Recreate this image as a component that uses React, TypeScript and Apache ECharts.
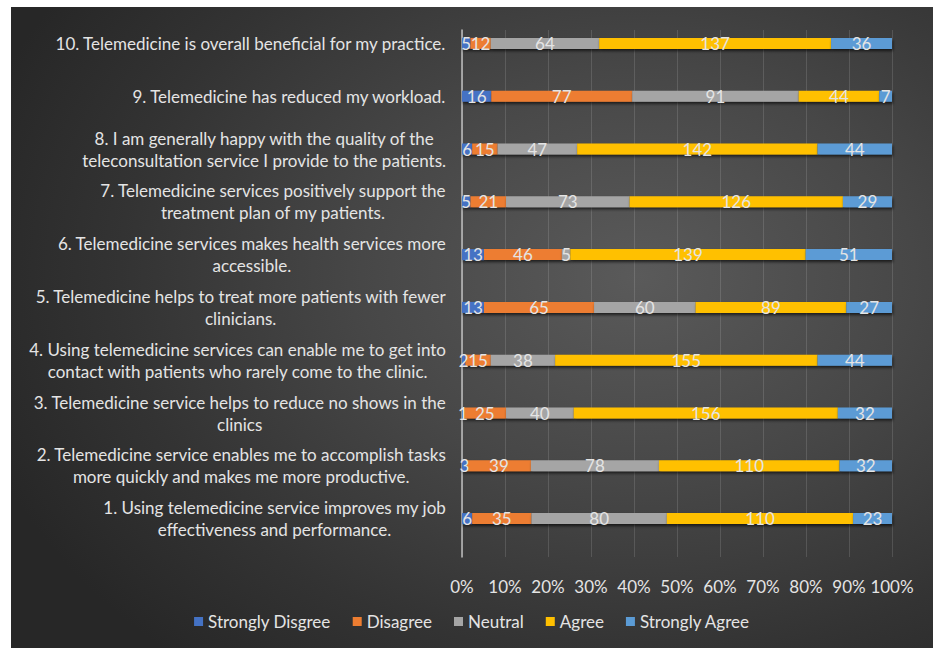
import React, { useEffect, useRef } from "react";
import * as echarts from "echarts";

const categories = [
  "1. Using telemedicine service improves my job\neffectiveness and performance.",
  "2. Telemedicine service enables me to accomplish tasks\nmore quickly and makes me more productive.",
  "3. Telemedicine service helps to reduce no shows in the\nclinics",
  "4. Using telemedicine services can enable me to get into\ncontact with patients who rarely come to the clinic.",
  "5. Telemedicine helps to treat more patients with fewer\nclinicians.",
  "6. Telemedicine services makes health services more\naccessible.",
  "7. Telemedicine services positively support the\ntreatment plan of my patients.",
  "8. I am generally happy with the quality of the\nteleconsultation service I provide to the patients.",
  "9. Telemedicine has reduced my workload.",
  "10. Telemedicine is overall beneficial for my practice.",
];

const stronglyDisagree = [6, 3, 1, 2, 13, 13, 5, 6, 16, 5];
const disagree = [35, 39, 25, 15, 65, 46, 21, 15, 77, 12];
const neutral = [80, 78, 40, 38, 60, 5, 73, 47, 91, 64];
const agree = [110, 110, 156, 155, 89, 139, 126, 142, 44, 137];
const stronglyAgree = [23, 32, 32, 44, 27, 51, 29, 44, 7, 36];

const seriesNames = ["Strongly Disgree", "Disagree", "Neutral", "Agree", "Strongly Agree"];
const seriesValues = [stronglyDisagree, disagree, neutral, agree, stronglyAgree];
const seriesColors = ["#4472C4", "#ED7D31", "#A5A5A5", "#FFC000", "#5B9BD5"];

const FONT = "Lato, 'Open Sans', sans-serif";
const TEXT = "#e4e4e4";

export default function App() {
  const ref = useRef<HTMLDivElement>(null);
  useEffect(() => {
    document.body.style.margin = "0";
    if (!ref.current) return;
    const chart = echarts.init(ref.current, null, { renderer: "svg" });
    const totals = categories.map((_, i) =>
      seriesValues.reduce((s, arr) => s + arr[i], 0)
    );
    const series: any[] = seriesValues.map((arr, k) => ({
      name: seriesNames[k],
      type: "bar",
      stack: "total",
      xAxisIndex: 0,
      yAxisIndex: 0,
      barWidth: 11,
      itemStyle: {
        color: seriesColors[k],
        shadowColor: "rgba(0,0,0,0.65)",
        shadowBlur: 3,
        shadowOffsetY: 2,
        shadowOffsetX: 1,
      },
      label: {
        show: true,
        position: "inside",
        color: TEXT,
        fontSize: 17,
        fontFamily: FONT,
        formatter: (p: any) => String(arr[p.dataIndex]),
      },
      data: arr.map((v, i) => (v / totals[i]) * 100),
    }));
    chart.setOption({
      animation: false,
      backgroundColor: "transparent",
      textStyle: { fontFamily: FONT },
      legend: {
        data: seriesNames,
        left: "center",
        top: 601,
        icon: "rect",
        itemWidth: 9,
        itemHeight: 9,
        itemGap: 22,
        textStyle: { color: TEXT, fontSize: 17, fontFamily: FONT },
      },
      grid: [
        { left: 451, right: 41, top: 10, height: 528 },
        { left: 451, right: 41, top: 23, height: 527 },
      ],
      xAxis: [
        { type: "value", gridIndex: 0, min: 0, max: 100, show: false },
        {
          type: "value",
          gridIndex: 1,
          min: 0,
          max: 100,
          interval: 10,
          axisLine: { show: false },
          axisTick: { show: false },
          splitLine: { show: true, lineStyle: { color: "rgba(255,255,255,0.13)", width: 1 } },
          axisLabel: {
            margin: 21,
            color: TEXT,
            fontSize: 17,
            fontFamily: FONT,
            formatter: "{value}%",
          },
        },
      ],
      yAxis: [
        {
          type: "category",
          gridIndex: 0,
          data: categories,
          axisLine: { show: false },
          axisTick: { show: false },
          splitLine: { show: false },
          axisLabel: {
            interval: 0,
            margin: 16,
            align: "right",
            color: TEXT,
            fontSize: 17,
            fontFamily: FONT,
            lineHeight: 22,
            formatter: (v: string) =>
              v
                .split("\n")
                .map((l) => `{c|${l}}`)
                .join("\n"),
            rich: {
              c: {
                align: "center",
                color: TEXT,
                fontSize: 17,
                fontFamily: FONT,
                lineHeight: 22,
              },
            },
          },
        },
        {
          type: "value",
          gridIndex: 1,
          min: 0,
          max: 1,
          axisLine: { show: true, onZero: false, lineStyle: { color: "#bfbfbf", width: 1.5 } },
          axisTick: { show: false },
          axisLabel: { show: false },
          splitLine: { show: false },
        },
      ],
      series,
    });
    return () => chart.dispose();
  }, []);
  return (
    <div style={{ position: "relative", width: 933, height: 648, background: "#fff", overflow: "hidden" }}>
      <div
        ref={ref}
        style={{
          position: "absolute",
          left: 11,
          top: 7,
          width: 922,
          height: 641,
          background:
            "radial-gradient(ellipse 75% 80% at 68% 42%, #5a5a5a 0%, #474747 40%, #333333 75%, #272727 100%)",
        }}
      />
    </div>
  );
}
